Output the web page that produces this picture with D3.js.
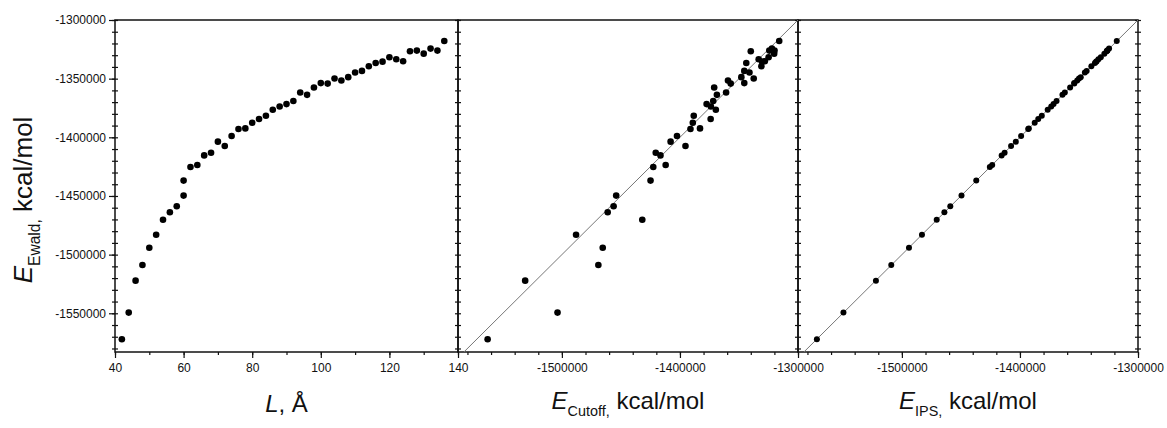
<!DOCTYPE html>
<html><head><meta charset="utf-8">
<script src="https://cdn.jsdelivr.net/npm/d3@7"></script>
<style>
html,body{margin:0;padding:0;background:#fff;}
svg{display:block;font-family:"Liberation Sans",Arial,sans-serif;}
.tl text{font-size:12px;fill:#111;}
</style></head>
<body><svg id="c" width="1167" height="428"></svg>
<script>
// Box length L (Å)
const boxL = [42,44,46,48,50,52,54,56,58,60,60,62,64,66,68,70,72,74,76,78,80,82,84,86,88,90,92,94,96,98,100,102,104,106,108,110,112,114,116,118,120,122,124,126,128,130,132,134,136];
// Ewald energies (kcal/mol)
const eEwald = [-1572100,-1549400,-1522200,-1508900,-1494100,-1483100,-1470300,-1463900,-1458800,-1449700,-1436900,-1425300,-1423600,-1415400,-1413100,-1403700,-1407400,-1398900,-1392900,-1392400,-1387600,-1384400,-1381600,-1376500,-1373700,-1371700,-1369100,-1361800,-1363800,-1357600,-1353800,-1354200,-1349900,-1351600,-1348700,-1344800,-1343400,-1339400,-1336600,-1335500,-1331700,-1333400,-1335100,-1326600,-1326100,-1328700,-1324400,-1326100,-1317900];
// Cutoff energies (kcal/mol)
const eCutoff = [-1562900,-1503700,-1531100,-1469100,-1465400,-1488000,-1431900,-1461200,-1456200,-1454000,-1424900,-1422600,-1412100,-1416500,-1420500,-1407900,-1395300,-1402500,-1391100,-1383000,-1389100,-1374000,-1388300,-1369600,-1373800,-1377400,-1371800,-1360900,-1368700,-1371000,-1345500,-1357000,-1337500,-1359300,-1348000,-1341100,-1345500,-1331000,-1343800,-1330400,-1324900,-1333300,-1328100,-1340000,-1324300,-1320200,-1322100,-1319900,-1315900];
// IPS energies (kcal/mol)
const eIPS = [-1572000,-1549500,-1522000,-1509000,-1494000,-1483000,-1470500,-1464000,-1459000,-1449500,-1437000,-1425500,-1423500,-1415500,-1413000,-1403500,-1407500,-1399000,-1393000,-1392500,-1387500,-1384500,-1381500,-1376500,-1373500,-1371500,-1369000,-1362000,-1364000,-1357500,-1354000,-1354000,-1350000,-1351500,-1348500,-1345000,-1343500,-1339500,-1336500,-1335500,-1331500,-1333500,-1335000,-1326500,-1326000,-1328500,-1324500,-1326000,-1318000];
// Tick values
const yMajor = [-1550000,-1500000,-1450000,-1400000,-1350000,-1300000];
const lMajor = [40,60,80,100,120,140];
const eMajor = [-1500000,-1400000,-1300000];

const svg = d3.select("#c");
const yTop = 20, yBot = 352;
const panels = [[115,458],[458,798],[798,1138]];
const fmt = d => String(d);

const y = d3.scaleLinear().domain([-1583000,-1300000]).range([yBot,yTop]);
const xL = d3.scaleLinear().domain([40,140]).range(panels[0]);
const xC = d3.scaleLinear().domain([-1588000,-1300000]).range(panels[1]);
const xI = d3.scaleLinear().domain([-1588000,-1300000]).range(panels[2]);

const yMinor = d3.range(-1580000,-1299999,10000);
const lMinor = d3.range(40,141,10);
const eMinor = d3.range(-1580000,-1299999,20000);

// frames
panels.forEach(p=>{
  svg.append("rect").attr("x",p[0]).attr("y",yTop).attr("width",p[1]-p[0]).attr("height",yBot-yTop)
    .attr("fill","none").attr("stroke","#111").attr("stroke-width",1.5);
});

function cleanAxis(g){ g.select(".domain").remove(); g.selectAll("line").attr("stroke","#111").attr("stroke-width",1.2); }

// y axis left with labels
svg.append("g").attr("class","tl").attr("transform",`translate(${panels[0][0]},0)`)
  .call(d3.axisLeft(y).tickValues(yMajor).tickSize(6).tickPadding(3).tickFormat(fmt))
  .call(cleanAxis);
// crossing minor ticks on each vertical border
[panels[0][0],panels[1][0],panels[2][0],panels[2][1]].forEach((xp)=>{
  svg.append("g").attr("transform",`translate(${xp},0)`)
    .call(d3.axisLeft(y).tickValues(yMinor).tickSize(3).tickFormat(""))
    .call(cleanAxis);
  svg.append("g").attr("transform",`translate(${xp},0)`)
    .call(d3.axisRight(y).tickValues(yMinor).tickSize(3).tickFormat(""))
    .call(cleanAxis);
});

// bottom axes
function bottomAxis(scale, major, minor){
  svg.append("g").attr("transform",`translate(0,${yBot})`)
    .call(d3.axisBottom(scale).tickValues(minor).tickSize(3).tickFormat(""))
    .call(cleanAxis);
  svg.append("g").attr("class","tl").attr("transform",`translate(0,${yBot})`)
    .call(d3.axisBottom(scale).tickValues(major).tickSize(6).tickPadding(5).tickFormat(fmt))
    .call(cleanAxis);
}
bottomAxis(xL, lMajor, lMinor);
bottomAxis(xC, eMajor, eMinor);
bottomAxis(xI, eMajor, eMinor);

// diagonal lines y = x
function diag(xs){
  const lo = Math.max(xs.domain()[0], y.domain()[0]), hi = -1300000;
  svg.append("line").attr("x1",xs(lo)).attr("y1",y(lo)).attr("x2",xs(hi)).attr("y2",y(hi))
    .attr("stroke","#777").attr("stroke-width",1);
}
diag(xC); diag(xI);

// points
svg.append("g").selectAll("circle").data(boxL).join("circle")
  .attr("cx",(d)=>xL(d)).attr("cy",(d,i)=>y(eEwald[i])).attr("r",3.3).attr("fill","#000");
svg.append("g").selectAll("circle").data(eCutoff).join("circle")
  .attr("cx",d=>xC(d)).attr("cy",(d,i)=>y(eEwald[i])).attr("r",3.3).attr("fill","#000");
svg.append("g").selectAll("circle").data(eIPS).join("circle")
  .attr("cx",d=>xI(d)).attr("cy",(d,i)=>y(eEwald[i])).attr("r",3).attr("fill","#000");

// axis titles
function title(x, yy, main, sub, rest, rot, fs){
  const t = svg.append("text").attr("text-anchor","middle").attr("font-size",fs).attr("fill","#111")
    .attr("transform",`translate(${x},${yy})${rot?" rotate(-90)":""}`);
  t.append("tspan").attr("font-style","italic").text(main);
  if(sub){
    t.append("tspan").attr("font-size",fs*0.6).attr("dy",fs*0.3).text(sub);
    t.append("tspan").attr("dy",-fs*0.3).text(rest);
  } else {
    t.append("tspan").text(rest);
  }
}
title(32, 200, "E", "Ewald,", " kcal/mol", true, 26);
title((panels[0][0]+panels[0][1])/2, 412, "L", null, ", Å", false, 24);
title((panels[1][0]+panels[1][1])/2, 409, "E", "Cutoff,", " kcal/mol", false, 24);
title((panels[2][0]+panels[2][1])/2, 409, "E", "IPS,", " kcal/mol", false, 24);
</script></body></html>
